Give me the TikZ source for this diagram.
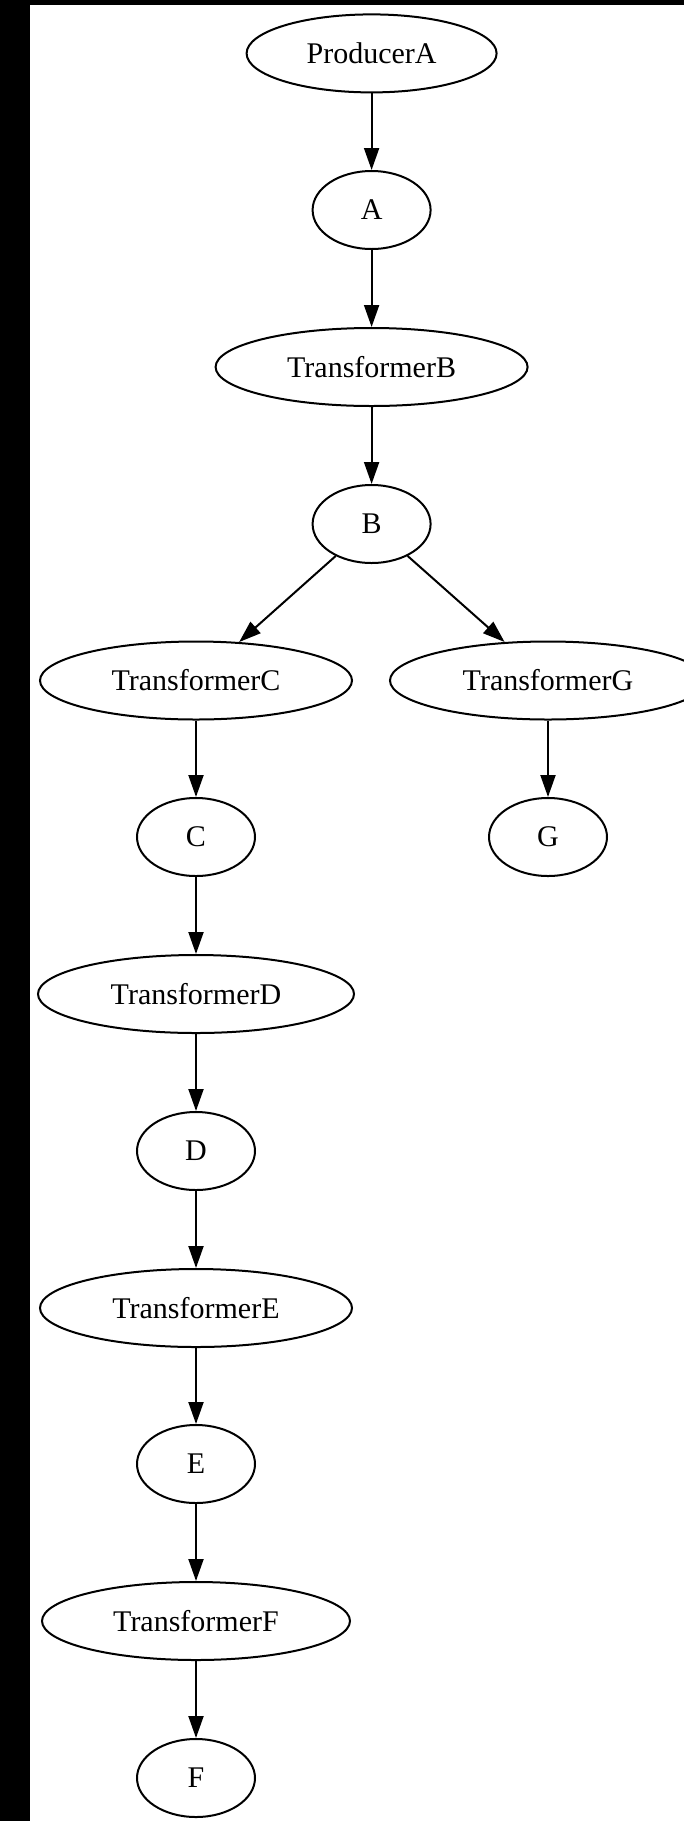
\documentclass[tikz,border=0pt]{standalone}
\usepackage{fontspec}
\setmainfont{Liberation Serif}
\usetikzlibrary{shapes.geometric,arrows.meta}
\tikzset{
  nd/.style={ellipse,draw,line width=2pt,inner sep=0pt,minimum height=78pt,font=\fontsize{30}{36}\selectfont},
  small/.style={nd,minimum width=118pt},
  wide/.style={nd,minimum width=#1},
  edge/.style={line width=2pt,-{Triangle[length=22pt,width=15pt]}}
}
\begin{document}
\begin{tikzpicture}[x=1pt,y=-1pt]
\useasboundingbox (0,0) rectangle (684,1821);
\clip (0,0) rectangle (684,1821);
\fill[black] (0,0) rectangle (684,5);
\fill[black] (0,0) rectangle (30,1821);
\node[wide=250pt] (PA) at (371.6,53.4) {ProducerA};
\node[small] (A) at (371.6,210) {A};
\node[wide=312pt] (TB) at (371.6,367) {TransformerB};
\node[small] (B) at (371.6,524) {B};
\node[wide=312pt] (TC) at (196,680.5) {TransformerC};
\node[wide=316pt] (TG) at (548,680.5) {TransformerG};
\node[small] (C) at (196,837) {C};
\node[small] (G) at (548,837) {G};
\node[wide=316pt] (TD) at (196,994) {TransformerD};
\node[small] (D) at (196,1151) {D};
\node[wide=312pt] (TE) at (196,1308) {TransformerE};
\node[small] (E) at (196,1464) {E};
\node[wide=308pt] (TF) at (196,1621) {TransformerF};
\node[small] (F) at (196,1778) {F};
\draw[edge] (PA) -- (A);
\draw[edge] (A) -- (TB);
\draw[edge] (TB) -- (B);
\draw[edge] (B) -- (TC);
\draw[edge] (B) -- (TG);
\draw[edge] (TC) -- (C);
\draw[edge] (TG) -- (G);
\draw[edge] (C) -- (TD);
\draw[edge] (TD) -- (D);
\draw[edge] (D) -- (TE);
\draw[edge] (TE) -- (E);
\draw[edge] (E) -- (TF);
\draw[edge] (TF) -- (F);
\end{tikzpicture}
\end{document}
